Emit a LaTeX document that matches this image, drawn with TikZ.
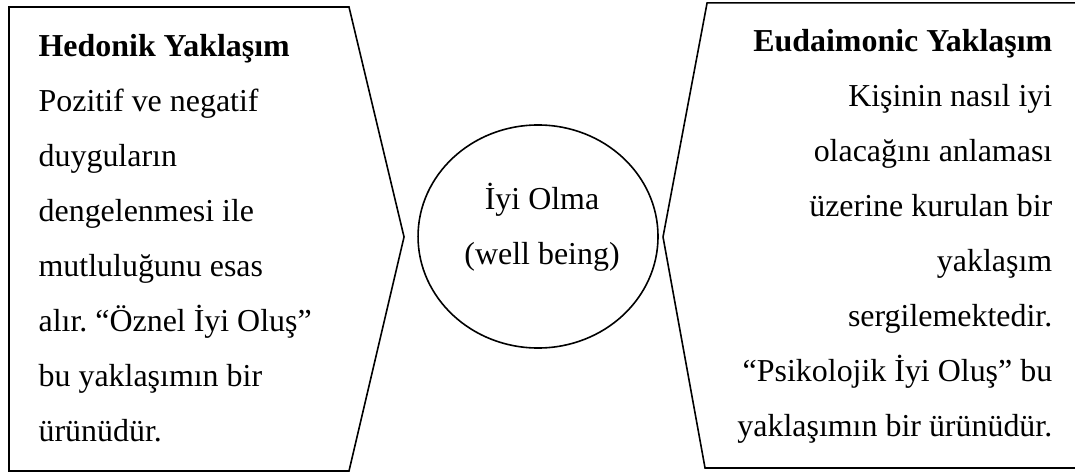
\documentclass[tikz,border=0pt]{standalone}
\usepackage{fontspec}
\setmainfont{Liberation Serif}
\usetikzlibrary{shapes.geometric}
\frenchspacing

\begin{document}
\begin{tikzpicture}[line width=0.6pt,txt/.style={inner sep=0pt,font=\fontsize{12}{20.7}\selectfont}]
\useasboundingbox (0,0) rectangle (14.2,6.248);
% left and right arrow boxes
\draw (0.119,6.156) -- (4.61,6.156) -- (5.337,3.118) -- (4.61,0.026) -- (0.119,0.026) -- cycle;
\draw (14.25,6.209) -- (9.34,6.209) -- (8.758,3.118) -- (9.313,0.066) -- (14.25,0.066);
\node[draw,ellipse,minimum width=3.17cm,minimum height=2.946cm,inner sep=0pt] (iyi) at (7.107,3.124) {};
% base = baseline of the last line
\node[txt,anchor=base,align=center] (iyilbl) at (7.16,2.748) {İyi Olma\\(well being)};
\node[txt,anchor=base west,align=left] (hed) at (0.5,0.410) {\textbf{Hedonik Yaklaşım}\\Pozitif ve negatif\\duyguların\\dengelenmesi ile\\mutluluğunu esas\\alır. “Öznel İyi Oluş”\\bu yaklaşımın bir\\ürünüdür.};
\node[txt,anchor=base east,align=right] (eud) at (13.91,0.476) {\textbf{Eudaimonic Yaklaşım}\\Kişinin nasıl iyi\\olacağını anlaması\\üzerine kurulan bir\\yaklaşım\\sergilemektedir.\\“Psikolojik İyi Oluş” bu\\yaklaşımın bir ürünüdür.};
\end{tikzpicture}
\end{document}
